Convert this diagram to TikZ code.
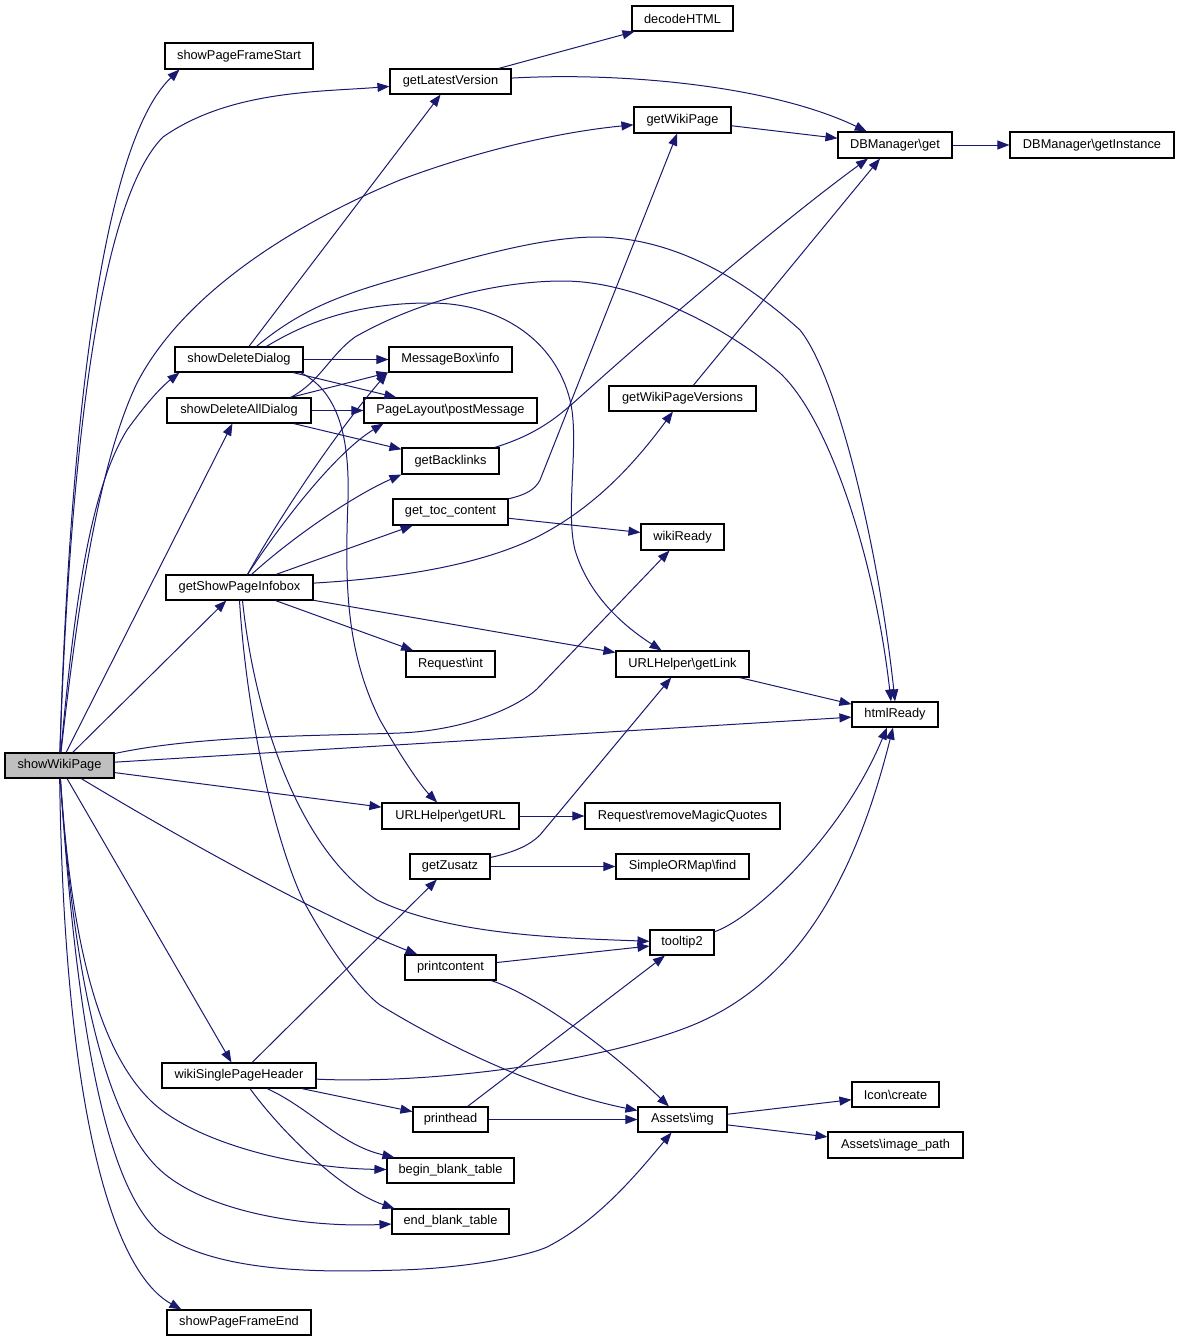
\documentclass[tikz,border=0pt]{standalone}
\usepackage{fontspec}
\setmainfont{Liberation Sans}
\usetikzlibrary{arrows.meta}
\definecolor{edgec}{HTML}{191970}
\definecolor{rootfill}{HTML}{BFBFBF}
\begin{document}
\begin{tikzpicture}[x=1pt,y=-1pt,
  box/.style={draw=black, line width=1.1pt, fill=white, inner sep=0pt, minimum height=25pt,
    font=\fontsize{12.8}{15}\selectfont},
  rootbox/.style={box, fill=rootfill},
  call/.style={draw=edgec, line width=1pt, -{Triangle[length=12pt,width=9pt,color=edgec]}}]
\useasboundingbox (0,0) rectangle (1179,1341);
% nodes
\node[rootbox, minimum width=109pt] (swp) at (59.5,765.5) {showWikiPage};
\node[box, minimum width=148pt, minimum height=26pt] (psf) at (239,56) {showPageFrameStart};
\node[box, minimum width=121pt] (lv) at (450.5,81.5) {getLatestVersion};
\node[box, minimum width=101pt] (dh) at (682.5,18.5) {decodeHTML};
\node[box, minimum width=97pt, minimum height=26pt] (wp) at (682.5,120) {getWikiPage};
\node[box, minimum width=114pt, minimum height=26pt] (dbg) at (895,145) {DBManager\textbackslash get};
\node[box, minimum width=164pt, minimum height=26pt] (dbi) at (1092,145) {DBManager\textbackslash getInstance};
\node[box, minimum width=128pt] (sdd) at (239,359.5) {showDeleteDialog};
\node[box, minimum width=144pt] (sdad) at (239,410.5) {showDeleteAllDialog};
\node[box, minimum width=123pt] (mb) at (450.5,359.5) {MessageBox\textbackslash info};
\node[box, minimum width=173pt] (pm) at (450.5,410.5) {PageLayout\textbackslash postMessage};
\node[box, minimum width=147pt] (wpv) at (682.5,398.5) {getWikiPageVersions};
\node[box, minimum width=97pt, minimum height=26pt] (gb) at (450.5,461) {getBacklinks};
\node[box, minimum width=115pt, minimum height=26pt] (gtc) at (450.5,512) {get\_toc\_content};
\node[box, minimum width=83pt, minimum height=26pt] (wr) at (682.5,537) {wikiReady};
\node[box, minimum width=147pt] (gspi) at (239.5,587.5) {getShowPageInfobox};
\node[box, minimum width=89pt, minimum height=26pt] (ri) at (450.5,664) {Request\textbackslash int};
\node[box, minimum width=133pt, minimum height=26pt] (ugl) at (682.5,664) {URLHelper\textbackslash getLink};
\node[box, minimum width=86pt] (hr) at (895,714.5) {htmlReady};
\node[box, minimum width=137pt, minimum height=26pt] (ugu) at (450.5,816) {URLHelper\textbackslash getURL};
\node[box, minimum width=195pt, minimum height=26pt] (rmq) at (682.5,816) {Request\textbackslash removeMagicQuotes};
\node[box, minimum width=80pt] (gz) at (450,866.5) {getZusatz};
\node[box, minimum width=133pt] (sof) at (682.5,866.5) {SimpleORMap\textbackslash find};
\node[box, minimum width=64pt] (tt) at (682,942.5) {tooltip2};
\node[box, minimum width=91pt] (pc) at (450.5,967.5) {printcontent};
\node[box, minimum width=154pt] (wsph) at (239,1075.5) {wikiSinglePageHeader};
\node[box, minimum width=75pt] (ph) at (450.5,1119.5) {printhead};
\node[box, minimum width=89pt] (ai) at (682.5,1119.5) {Assets\textbackslash img};
\node[box, minimum width=87pt] (ic) at (895.5,1094.5) {Icon\textbackslash create};
\node[box, minimum width=135pt, minimum height=26pt] (aip) at (895.5,1145) {Assets\textbackslash image\_path};
\node[box, minimum width=127pt] (bbt) at (450.5,1170.5) {begin\_blank\_table};
\node[box, minimum width=117pt] (ebt) at (450.5,1221.5) {end\_blank\_table};
\node[box, minimum width=144pt] (pfe) at (239,1322.5) {showPageFrameEnd};
% edges from showWikiPage
\draw[call] (swp) .. controls (68,480) and (95,150) .. ([xshift=15pt]psf.south west);
\draw[call] (swp) .. controls (70,450) and (100,200) .. (163,137) .. controls (230,90) and (320,92) .. (lv);
\draw[call] (swp) .. controls (78,600) and (100,460) .. (137,383) .. controls (180,300) and (280,230) .. (400,180) .. controls (480,150) and (560,132) .. (wp);
\draw[call] (swp) .. controls (75,600) and (90,490) .. (127,430) .. controls (145,405) and (160,388) .. ([xshift=5pt]sdd.south west);
\draw[call] (swp) -- (sdad);
\draw[call] (swp) -- (gspi);
\draw[call] (swp) .. controls (200,735) and (320,736) .. (400,733) .. controls (470,730) and (520,705) .. (537,689) -- (wr);
\draw[call] (swp) -- (hr);
\draw[call] (swp) -- (ugu);
\draw[call] (swp) .. controls (200,850) and (330,920) .. (pc);
\draw[call] (swp) -- (wsph);
\draw[call] (swp) .. controls (72,950) and (100,1050) .. (150,1100) .. controls (190,1140) and (290,1168) .. (bbt);
\draw[call] (swp) .. controls (75,1000) and (110,1120) .. (157,1167) .. controls (200,1210) and (300,1228) .. (ebt);
\draw[call] (swp) .. controls (78,1050) and (110,1190) .. (160,1233) .. controls (220,1275) and (330,1272) .. (400,1270) .. controls (470,1268) and (530,1255) .. (547,1247) .. controls (600,1220) and (640,1170) .. (ai);
\draw[call] (swp) .. controls (64,1100) and (110,1270) .. ([xshift=15pt]pfe.north west);
% showDeleteDialog
\draw[call] (sdd) -- (lv);
\draw[call] (sdd) -- (mb);
\draw[call] (sdd) -- (pm);
\draw[call] ([xshift=-3pt]sdd.south east) .. controls (335,390) and (350,430) .. (348,500) .. controls (345,580) and (345,650) .. (380,720) .. controls (400,755) and (420,785) .. (ugu);
\draw[call] ([xshift=82pt]sdd.north west) .. controls (300,310) and (340,295) .. (400,278) .. controls (470,258) and (540,237) .. (597,237) .. controls (680,238) and (750,285) .. (800,330) .. controls (840,380) and (880,560) .. (hr.north);
\draw[call] ([xshift=92pt]sdd.north west) .. controls (310,320) and (360,303) .. (430,303) .. controls (500,303) and (555,340) .. (570,400) .. controls (580,440) and (565,510) .. (575,550) .. controls (590,600) and (630,630) .. (ugl);
% showDeleteAllDialog
\draw[call] ([xshift=-21pt]sdad.north east) -- (mb.south west);
\draw[call] (sdad) -- (pm);
\draw[call] (sdad) -- (gb);
\draw[call] ([xshift=-21pt]sdad.north east) .. controls (320,382) and (330,355) .. (355,337) .. controls (420,300) and (500,281) .. (563,281) .. controls (640,281) and (730,330) .. (780,373) .. controls (830,420) and (875,560) .. ([xshift=-4pt]hr.north);
% getShowPageInfobox
\draw[call] ([xshift=8pt]gspi.north) .. controls (275,525) and (330,440) .. ([xshift=-1pt]mb.south west);
\draw[call] ([xshift=8pt]gspi.north) .. controls (290,510) and (340,450) .. ([xshift=20pt]pm.south west);
\draw[call] ([xshift=12pt]gspi.north) .. controls (295,535) and (355,495) .. (gb.south west);
\draw[call] (gspi) -- (gtc);
\draw[call] (gspi) .. controls (400,578) and (480,565) .. (537,537) .. controls (590,510) and (630,470) .. (wpv);
\draw[call] (gspi) -- (ugl);
\draw[call] (gspi) -- (ri);
\draw[call] ([xshift=3pt]gspi.south) .. controls (255,720) and (300,850) .. (377,900) .. controls (450,935) and (560,938) .. (tt);
\draw[call] (gspi.south) .. controls (247,720) and (275,840) .. (303,900) .. controls (330,950) and (360,990) .. (380,1005) .. controls (470,1060) and (560,1095) .. (ai);
% getLatestVersion etc
\draw[call] (lv) -- (dh);
\draw[call] (lv) .. controls (620,72) and (770,85) .. (dbg);
\draw[call] (wp) -- (dbg);
\draw[call] (dbg) -- (dbi);
\draw[call] (wpv) -- ([xshift=-15pt]dbg.south);
\draw[call] (gb) .. controls (545,432) and (565,410) .. (590,388) .. controls (660,325) and (790,215) .. ([xshift=-27pt]dbg.south);
\draw[call] (gtc) .. controls (525,495) and (535,490) .. (540,480) -- (wp);
\draw[call] (gtc) -- (wr);
\draw[call] (ugl) -- (hr);
\draw[call] (ugu) -- (rmq);
\draw[call] (gz) .. controls (515,852) and (530,845) .. (540,835) -- (ugl);
\draw[call] (gz) -- (sof);
% wikiSinglePageHeader
\draw[call] (wsph) -- (gz);
\draw[call] (wsph) -- (ph);
\draw[call] ([xshift=28pt]wsph.south) .. controls (310,1108) and (340,1145) .. ([xshift=8pt]bbt.north west);
\draw[call] ([xshift=11pt]wsph.south) .. controls (280,1130) and (340,1190) .. ([xshift=3pt]ebt.north west);
\draw[call] (wsph) .. controls (420,1084) and (580,1066) .. (680,1030) .. controls (770,998) and (845,920) .. ([xshift=-2pt]hr.south);
% printcontent, printhead, tooltip2, Assets
\draw[call] (pc) -- (tt);
\draw[call] (pc) .. controls (530,993) and (600,1040) .. (ai);
\draw[call] (ph) -- (tt);
\draw[call] (ph) -- (ai);
\draw[call] (ai) -- (ic);
\draw[call] (ai) -- (aip);
\draw[call] (tt) .. controls (750,920) and (840,840) .. ([xshift=-8pt]hr.south);
\end{tikzpicture}
\end{document}
